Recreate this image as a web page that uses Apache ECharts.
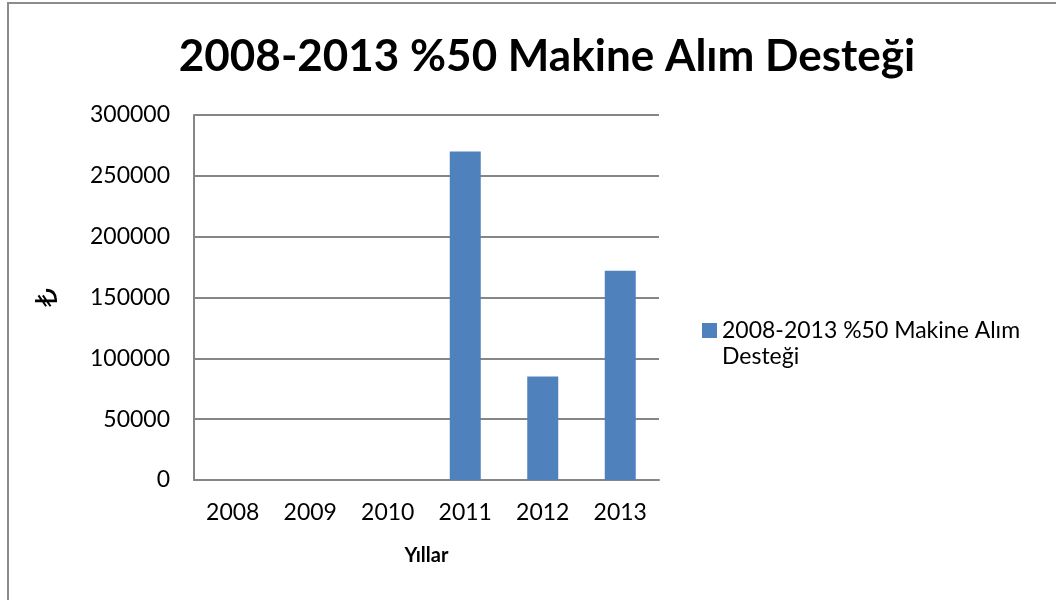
<!DOCTYPE html>
<html><head><meta charset="utf-8">
<script src="https://cdn.jsdelivr.net/npm/echarts@6/dist/echarts.min.js"></script>
<style>html,body{margin:0;padding:0;background:#fff}#c{width:1056px;height:600px}</style>
</head><body><div id="c"></div>
<script>
const categories = ['2008','2009','2010','2011','2012','2013'];
const values = [0, 0, 0, 270000, 85000, 172000];
const seriesName = '2008-2013 %50 Makine Alım Desteği';
const titleText = '2008-2013 %50 Makine Alım Desteği';
const legendLine1 = '2008-2013 %50 Makine Alım';
const legendLine2 = 'Desteği';
const xName = 'Yıllar';
const yName = '₺';

const chart = echarts.init(document.getElementById('c'), null, {renderer:'canvas'});
const font = 'Lato, "Open Sans", sans-serif';
chart.setOption({
  animation:false,
  backgroundColor:'#fff',
  title:{text:titleText,left:542,top:30,textAlign:'center',
    textStyle:{fontFamily:font,fontWeight:'bold',fontSize:44,color:'#000'}},
  graphic:[
    {type:'rect',shape:{x:8,y:3,width:1060,height:610},
      style:{fill:'none',stroke:'#8c8c8c',lineWidth:2},silent:true},
    {type:'text',left:722,top:345,
      style:{text:legendLine2,font:'23px Lato, sans-serif',fill:'#000'},silent:true}
  ],
  grid:{left:194,top:115,width:465,height:365,containLabel:false},
  legend:{left:697,top:314,orient:'vertical',itemWidth:15,itemHeight:15,itemGap:4,
    icon:'rect',
    formatter:()=> legendLine1,
    textStyle:{fontFamily:font,fontSize:23,color:'#000'}},
  xAxis:{type:'category',data:categories,
    name:xName,nameLocation:'middle',nameGap:66,
    nameTextStyle:{fontFamily:font,fontWeight:'bold',fontSize:20,color:'#000'},
    axisLine:{lineStyle:{color:'#868686',width:2}},axisTick:{show:false},
    axisLabel:{fontFamily:font,fontSize:23,color:'#000',margin:21}},
  yAxis:{type:'value',min:0,max:300000,interval:50000,
    name:yName,nameLocation:'middle',nameRotate:90,nameGap:130,
    nameTextStyle:{fontFamily:'"DejaVu Sans", "Noto Sans", sans-serif',fontSize:30,color:'#000'},
    axisLine:{show:true,lineStyle:{color:'#868686',width:2}},axisTick:{show:false},
    splitLine:{lineStyle:{color:'#868686',width:2}},
    axisLabel:{fontFamily:font,fontSize:23,color:'#000',margin:24,formatter:v=>String(v)}},
  series:[{name:seriesName,type:'bar',data:values,barWidth:31,
    itemStyle:{color:'#4f81bd'}}]
});
</script></body></html>
